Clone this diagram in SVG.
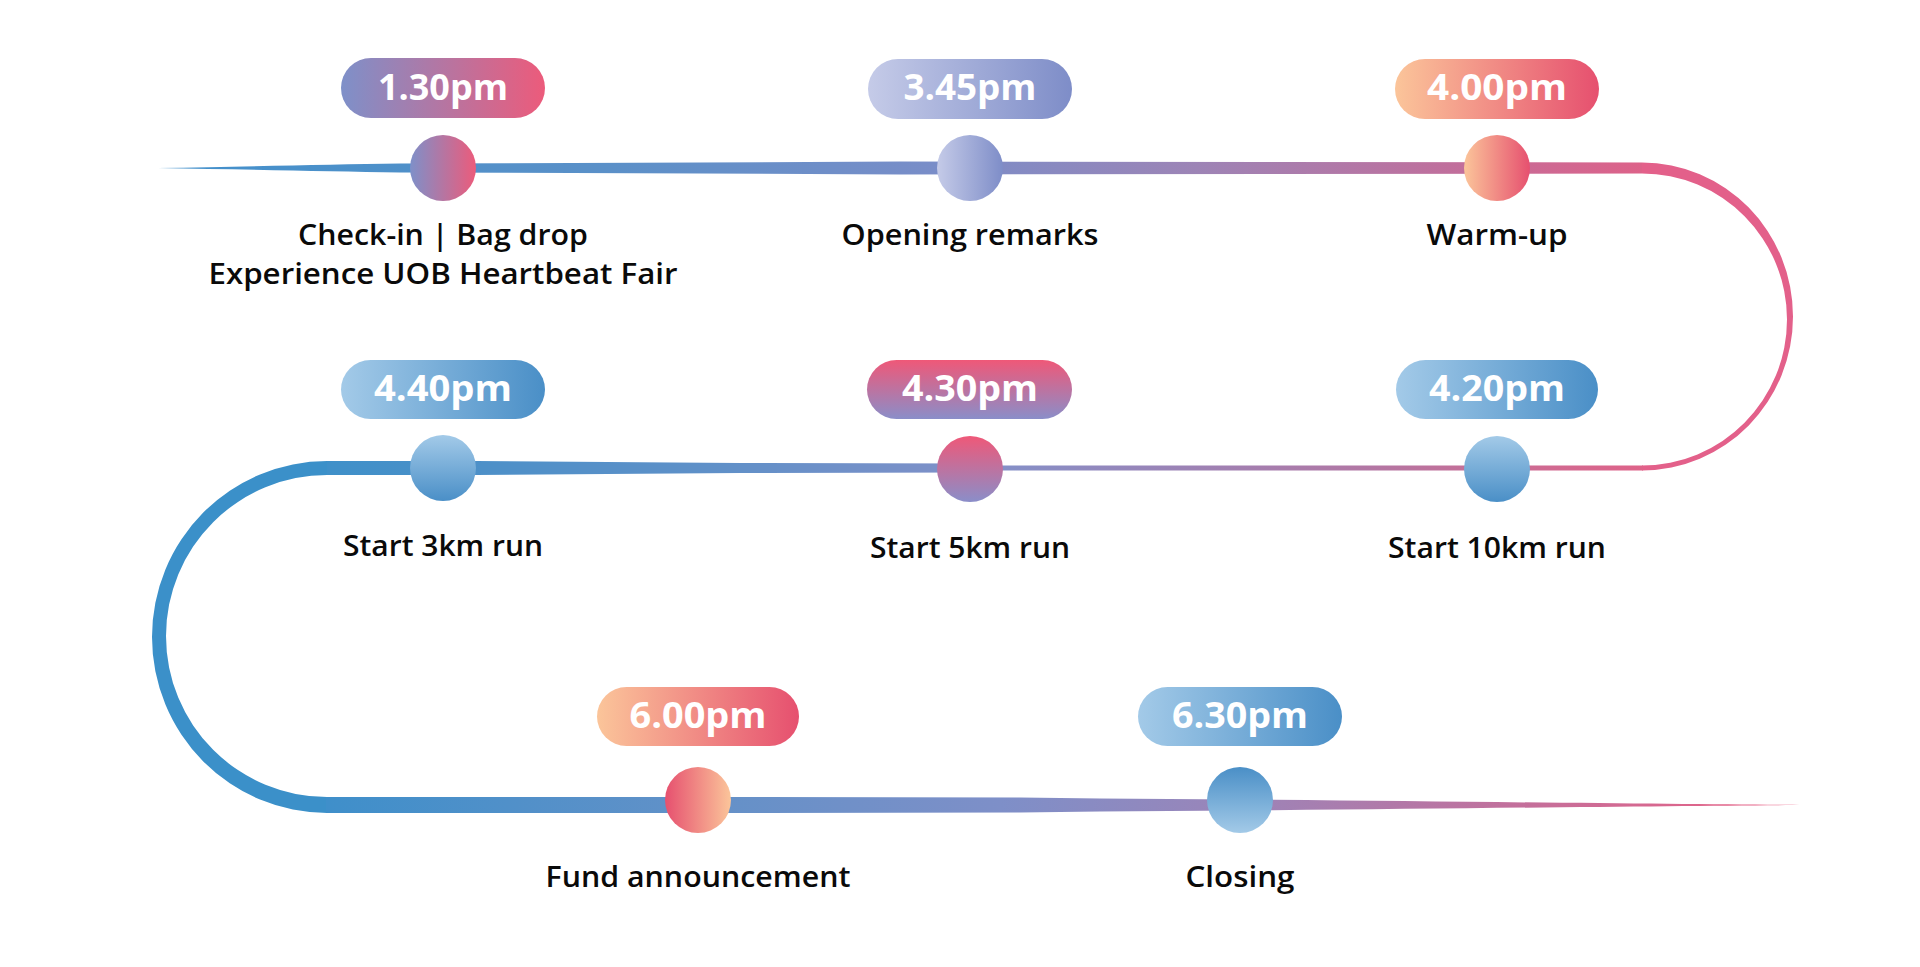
<svg xmlns="http://www.w3.org/2000/svg" width="1920" height="967" viewBox="0 0 1920 967">
<defs>
<style>
.pill-text{font-family:"Open Sans","Liberation Sans",sans-serif;font-weight:700;font-size:36px;fill:#ffffff;text-anchor:middle}
.label{font-family:"Open Sans","Liberation Sans",sans-serif;font-weight:600;font-size:29px;fill:#0a0a0a;text-anchor:middle}
.label2{font-size:28px}
</style>
<linearGradient id="gPurplePink" x1="0" y1="0" x2="1" y2="0"><stop offset="0" stop-color="#7e90c9"/><stop offset="1" stop-color="#ec5b7b"/></linearGradient>
<linearGradient id="gLavender" x1="0" y1="0" x2="1" y2="0"><stop offset="0" stop-color="#c5cbe8"/><stop offset="1" stop-color="#7e8dc8"/></linearGradient>
<linearGradient id="gPeachPink" x1="0" y1="0" x2="1" y2="0"><stop offset="0" stop-color="#fbc59a"/><stop offset="1" stop-color="#e6506f"/></linearGradient>
<linearGradient id="gPinkPeach" x1="0" y1="0" x2="1" y2="0"><stop offset="0" stop-color="#e6506f"/><stop offset="1" stop-color="#fbc59a"/></linearGradient>
<linearGradient id="gBlueH" x1="0" y1="0" x2="1" y2="0"><stop offset="0" stop-color="#a3cae8"/><stop offset="1" stop-color="#4a8fc7"/></linearGradient>
<linearGradient id="gBlueV" x1="0" y1="0" x2="0" y2="1"><stop offset="0" stop-color="#a3cae8"/><stop offset="1" stop-color="#4a8fc7"/></linearGradient>
<linearGradient id="gBlueVrev" x1="0" y1="0" x2="0" y2="1"><stop offset="0" stop-color="#4a8fc7"/><stop offset="1" stop-color="#a3cae8"/></linearGradient>
<linearGradient id="gPinkPurpleV" x1="0" y1="0" x2="0" y2="1"><stop offset="0" stop-color="#ef5878"/><stop offset="1" stop-color="#8a8ec9"/></linearGradient>
<linearGradient id="gRow1" gradientUnits="userSpaceOnUse" x1="158" y1="0" x2="1642" y2="0">
<stop offset="0" stop-color="#4190cb"/><stop offset="0.3" stop-color="#5a90c8"/><stop offset="0.53" stop-color="#7a8dc8"/><stop offset="0.7" stop-color="#9d84b6"/><stop offset="0.87" stop-color="#c06f9c"/><stop offset="1" stop-color="#dd6289"/></linearGradient>
<linearGradient id="gRow2" gradientUnits="userSpaceOnUse" x1="1642" y1="0" x2="327" y2="0">
<stop offset="0" stop-color="#de6389"/><stop offset="0.11" stop-color="#c96d95"/><stop offset="0.21" stop-color="#b277a4"/><stop offset="0.41" stop-color="#9288bd"/><stop offset="0.49" stop-color="#8490c8"/><stop offset="0.7" stop-color="#6090c8"/><stop offset="0.91" stop-color="#4a90c8"/><stop offset="1" stop-color="#3f90c9"/></linearGradient>
<linearGradient id="gRow3" gradientUnits="userSpaceOnUse" x1="327" y1="0" x2="1806" y2="0">
<stop offset="0" stop-color="#3f8fca"/><stop offset="0.25" stop-color="#6291c8"/><stop offset="0.456" stop-color="#7e8fc8"/><stop offset="0.62" stop-color="#9c84b8"/><stop offset="0.8" stop-color="#c2709c"/><stop offset="1" stop-color="#ec5f82"/></linearGradient>
</defs>
<rect width="1920" height="967" fill="#ffffff"/>
<g id="connectors">
<path fill="url(#gRow1)" d="M158,168 C250,166.5 330,164.5 400,163.5 L700,162.5 L900,161.5 L1642,162.5 L1642,173.5 L900,174.5 L700,173.5 L400,172.5 C330,171.5 250,169.5 158,168 Z"/>
<path fill="#e3608a" d="M1642,162.5 A151,154 0 0 1 1642,470.5 L1642,465.5 A145,146 0 0 0 1642,173.5 Z"/>
<path fill="url(#gRow2)" d="M1643,465.5 L970,465.5 L970,463.5 L740,463 L476,461 L326,461 L326,475 L476,475 L740,473 L970,472.5 L970,470.5 L1643,470.5 Z"/>
<path fill="#3b90c9" d="M327,461 A175,176 0 0 0 327,813 L327,797 A161,161 0 0 1 327,475 Z"/>
<path fill="url(#gRow3)" d="M326,797 L700,797 L1020,797.5 L1100,798.5 L1273,799.7 C1500,802 1700,804.5 1806,805 C1700,805.5 1500,808 1273,810.3 L1100,811.5 L1020,812.5 L700,813 L326,813 Z"/>
</g>
<g id="node-130">
<rect x="341" y="58" width="204" height="60" rx="30" fill="url(#gPurplePink)"/>
<text class="pill-text" x="443" y="100" textLength="130" lengthAdjust="spacingAndGlyphs">1.30pm</text>
<circle cx="443" cy="168" r="33" fill="url(#gPurplePink)"/>
<text class="label label2" x="443" y="245" textLength="290" lengthAdjust="spacingAndGlyphs">Check-in | Bag drop</text>
<text class="label label2" x="443" y="284" textLength="469" lengthAdjust="spacingAndGlyphs">Experience UOB Heartbeat Fair</text>
</g>
<g id="node-345">
<rect x="868" y="59" width="204" height="60" rx="30" fill="url(#gLavender)"/>
<text class="pill-text" x="970" y="100" textLength="133" lengthAdjust="spacingAndGlyphs">3.45pm</text>
<circle cx="970" cy="168" r="33" fill="url(#gLavender)"/>
<text class="label" x="970" y="245" textLength="257" lengthAdjust="spacingAndGlyphs">Opening remarks</text>
</g>
<g id="node-400">
<rect x="1395" y="59" width="204" height="60" rx="30" fill="url(#gPeachPink)"/>
<text class="pill-text" x="1497" y="100" textLength="140" lengthAdjust="spacingAndGlyphs">4.00pm</text>
<circle cx="1497" cy="168" r="33" fill="url(#gPeachPink)"/>
<text class="label" x="1497" y="245" textLength="141" lengthAdjust="spacingAndGlyphs">Warm-up</text>
</g>
<g id="node-420">
<rect x="1396" y="360" width="202" height="59" rx="29.5" fill="url(#gBlueH)"/>
<text class="pill-text" x="1497" y="401" textLength="136" lengthAdjust="spacingAndGlyphs">4.20pm</text>
<circle cx="1497" cy="469" r="33" fill="url(#gBlueV)"/>
<text class="label" x="1497" y="558" textLength="218" lengthAdjust="spacingAndGlyphs">Start 10km run</text>
</g>
<g id="node-430">
<rect x="867" y="360" width="205" height="59" rx="29.5" fill="url(#gPinkPurpleV)"/>
<text class="pill-text" x="970" y="401" textLength="136" lengthAdjust="spacingAndGlyphs">4.30pm</text>
<circle cx="970" cy="469" r="33" fill="url(#gPinkPurpleV)"/>
<text class="label" x="970" y="558" textLength="200" lengthAdjust="spacingAndGlyphs">Start 5km run</text>
</g>
<g id="node-440">
<rect x="341" y="360" width="204" height="59" rx="29.5" fill="url(#gBlueH)"/>
<text class="pill-text" x="443" y="401" textLength="138" lengthAdjust="spacingAndGlyphs">4.40pm</text>
<circle cx="443" cy="468" r="33" fill="url(#gBlueV)"/>
<text class="label" x="443" y="556" textLength="200" lengthAdjust="spacingAndGlyphs">Start 3km run</text>
</g>
<g id="node-600">
<rect x="597" y="687" width="202" height="59" rx="29.5" fill="url(#gPeachPink)"/>
<text class="pill-text" x="698" y="728" textLength="137" lengthAdjust="spacingAndGlyphs">6.00pm</text>
<circle cx="698" cy="800" r="33" fill="url(#gPinkPeach)"/>
<text class="label" x="698" y="887" textLength="305" lengthAdjust="spacingAndGlyphs">Fund announcement</text>
</g>
<g id="node-630">
<rect x="1138" y="687" width="204" height="59" rx="29.5" fill="url(#gBlueH)"/>
<text class="pill-text" x="1240" y="728" textLength="136" lengthAdjust="spacingAndGlyphs">6.30pm</text>
<circle cx="1240" cy="800" r="33" fill="url(#gBlueVrev)"/>
<text class="label" x="1240" y="887" textLength="109" lengthAdjust="spacingAndGlyphs">Closing</text>
</g>
</svg>
